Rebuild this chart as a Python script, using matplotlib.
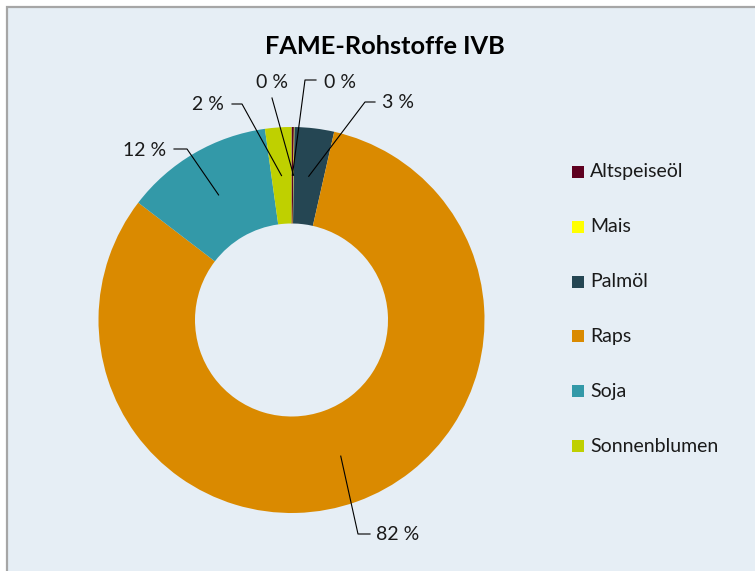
import numpy as np
import matplotlib
matplotlib.use("Agg")
import matplotlib.pyplot as plt
import matplotlib.patches as mpatches

# data
categories = ["Altspeiseöl", "Mais", "Palmöl", "Raps", "Soja", "Sonnenblumen"]
shares = [0.2, 0.05, 3.3, 81.85, 12.4, 2.2]
colors = ["#5E0020", "#FFFF00", "#254653", "#DA8A00", "#3399A8", "#BFD000"]

W, H = 755, 571
FONT = "Lato"

# label layout in pixel coords (y from top): text, elbow, line end
label_text = [(340, 83), (272, 83), (398, 103), (398, 535), (145, 151), (208, 105)]
label_elbow = [(305, 80), (272, 98), (365, 102), (358, 534), (187, 149), (242, 104)]
label_end = [(316, 80), (272, 98), (375, 102), (370, 534), (174, 149), (232, 104)]

fig = plt.figure(figsize=(W / 100, H / 100), dpi=100, facecolor="white")
ax = fig.add_axes([0, 0, 1, 1])

# chart area background with grey frame
ax.add_patch(mpatches.Rectangle((6.5, -5), W, H - 6.5 + 5, facecolor="#E6EEF5",
                                edgecolor="#A6A6A6", linewidth=1.6, zorder=0))

cx, cy, R = 291.5, H - 320, 193
wedges, _ = ax.pie(shares, colors=colors, startangle=90, counterclock=False,
                   radius=R, center=(cx, cy),
                   wedgeprops=dict(width=R * 0.5, linewidth=0))
ax.set_xlim(0, W)
ax.set_ylim(0, H)
ax.set_aspect("equal")
ax.axis("off")

# data labels with leader lines
for w, v, t, e, f in zip(wedges, shares, label_text, label_elbow, label_end):
    ang = np.deg2rad((w.theta1 + w.theta2) / 2)
    ax_ = cx + 0.75 * R * np.cos(ang)
    ay_ = cy + 0.75 * R * np.sin(ang)
    xs = [ax_, e[0], f[0]]
    ys = [ay_, H - e[1], H - f[1]]
    ax.plot(xs, ys, color="black", lw=0.8, zorder=3)
    ax.text(t[0], H - t[1], f"{v:.0f} %", ha="center", va="center",
            fontsize=14, family=FONT, color="#1a1a1a")

ax.text(385, H - 47, "FAME-Rohstoffe IVB", ha="center", va="center",
        fontsize=18.3, fontweight="bold", family=FONT, color="black")

# legend
for i, (name, c) in enumerate(zip(categories, colors)):
    y = H - (172 + i * 54.8)
    ax.add_patch(mpatches.Rectangle((572, y - 6), 12, 12, facecolor=c, lw=0))
    ax.text(590, y, name, ha="left", va="center", fontsize=14,
            family=FONT, color="#1a1a1a")

plt.savefig("out.png", dpi=100, facecolor=fig.get_facecolor())
plt.close(fig)
